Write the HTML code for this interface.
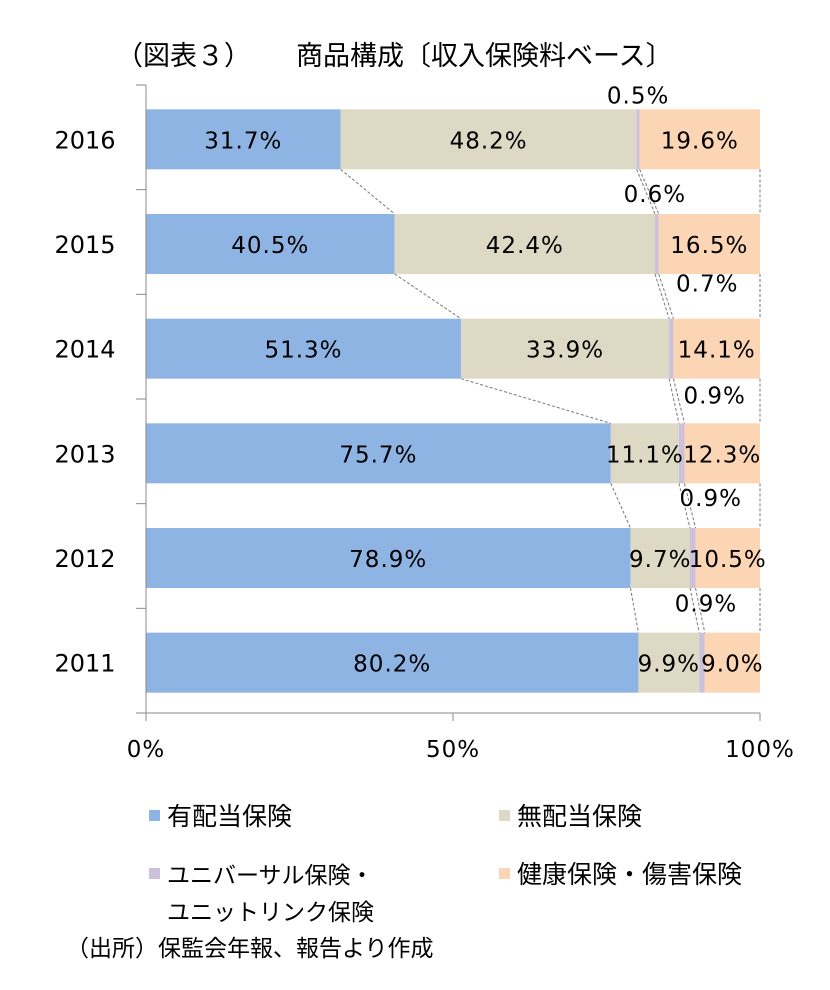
<!DOCTYPE html>
<html><head><meta charset="utf-8">
<style>
html,body{margin:0;padding:0;background:#fff;}
svg text{font-family:"DejaVu Sans","Noto Sans CJK JP",sans-serif;}
svg text.jp{font-family:"Noto Sans CJK JP",sans-serif;}
</style></head>
<body>
<svg id="chart" width="830" height="985" xmlns="http://www.w3.org/2000/svg">
<text class="jp" x="116" y="65" font-size="27" fill="#000">（図表３）</text>
<text class="jp" x="296" y="65" font-size="27" fill="#000">商品構成〔収入保険料ベース〕</text>
<g id="plot"></g>
<g>
 <rect x="149" y="810" width="11" height="11" fill="#8EB4E3"/>
 <text class="jp" x="167" y="825" font-size="25">有配当保険</text>
 <rect x="499" y="810" width="11" height="11" fill="#DDD9C4"/>
 <text class="jp" x="517" y="825" font-size="25">無配当保険</text>
 <rect x="149" y="868" width="11" height="11" fill="#CCC1DA"/>
 <text class="jp" x="167" y="883" font-size="23">ユニバーサル保険・</text>
 <text class="jp" x="167" y="920" font-size="23">ユニットリンク保険</text>
 <rect x="499" y="868" width="11" height="11" fill="#FCD5B5"/>
 <text class="jp" x="517" y="883" font-size="25">健康保険・傷害保険</text>
</g>
<text class="jp" x="66" y="956" font-size="23">（出所）保監会年報、報告より作成</text>
</svg>
<script>
const years = ["2016","2015","2014","2013","2012","2011"];
const participating = [31.7,40.5,51.3,75.7,78.9,80.2];
const nonParticipating = [48.2,42.4,33.9,11.1,9.7,9.9];
const universal = [0.5,0.6,0.7,0.9,0.9,0.9];
const health = [19.6,16.5,14.1,12.3,10.5,9.0];
const xTicks = [0,50,100];
const xTickLabels = ["0%","50%","100%"];

const NS="http://www.w3.org/2000/svg";
const plot=document.getElementById('plot');
const X0=146,X1=760,Ytop=85,Ybot=713;
const band=(Ybot-Ytop)/years.length, barH=60;
const xS=v=>X0+(X1-X0)*v/100;
const yS=i=>Ytop+band*i+(band-barH)/2+2;
function mk(tag,attrs){const e=document.createElementNS(NS,tag);for(const k in attrs)e.setAttribute(k,attrs[k]);plot.appendChild(e);return e;}
const series=[
 {name:'participating',vals:participating,color:'#8EB4E3'},
 {name:'non-participating',vals:nonParticipating,color:'#DDD9C4'},
 {name:'universal',vals:universal,color:'#CCC1DA'},
 {name:'health',vals:health,color:'#FCD5B5'}];
const cum=years.map((_,i)=>{let c=[0];series.forEach(s=>c.push(c[c.length-1]+s.vals[i]));return c;});
for(let i=0;i<years.length-1;i++){
 for(let k=1;k<=4;k++){
  const l=mk('line',{x1:xS(cum[i][k]),y1:yS(i)+barH,x2:xS(cum[i+1][k]),y2:yS(i+1),stroke:'#777','stroke-width':1,'stroke-dasharray':'3,2'});
  
  
 }
}
years.forEach((y,i)=>{
 series.forEach((s,k)=>{
  const r=mk('rect',{x:xS(cum[i][k]),y:yS(i),width:xS(cum[i][k+1])-xS(cum[i][k]),height:barH,fill:s.color});
  
  
 });
 const yl=mk('text',{x:85,y:yS(i)+barH/2+9,'font-size':24,'text-anchor':'middle'});
 yl.textContent=y;
 
 
});
const uniDx=[0,-2,36,33,18,4];
const uniDy=[0,-6,-21,-14,-16,-15];
years.forEach((y,i)=>{
 series.forEach((s,k)=>{
  let cx=(xS(cum[i][k])+xS(cum[i][k+1]))/2, cy=yS(i)+barH/2+9;
  if(k===2){cx+=uniDx[i];cy=yS(i)-6+uniDy[i];}
  const t=mk('text',{x:cx,y:cy,'font-size':23,'text-anchor':'middle',fill:'#000','letter-spacing':1});
  t.textContent=s.vals[i].toFixed(1)+'%';
  
  
 });
});
const ya=mk('line',{x1:X0,y1:Ytop,x2:X0,y2:Ybot,stroke:'#888'});


for(let i=0;i<=years.length;i++){
 const t=mk('line',{x1:X0-10,y1:Ytop+band*i,x2:X0,y2:Ytop+band*i,stroke:'#888'});
 
 
}
const xa=mk('line',{x1:X0,y1:Ybot,x2:X1,y2:Ybot,stroke:'#888'});


xTicks.forEach((v,j)=>{
 const t=mk('line',{x1:xS(v),y1:Ybot,x2:xS(v),y2:Ybot+8,stroke:'#888'});
 
 
 const l=mk('text',{x:xS(v),y:Ybot+44,'font-size':23,'text-anchor':'middle','letter-spacing':1});
 l.textContent=xTickLabels[j];
 
 
});
</script>
</body></html>
